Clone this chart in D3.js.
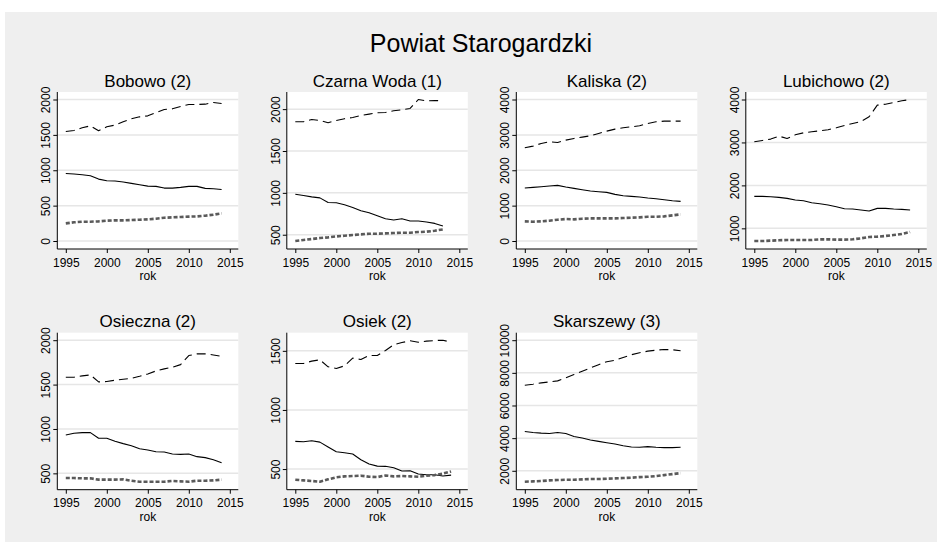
<!DOCTYPE html>
<html><head><meta charset="utf-8">
<script src="https://cdn.jsdelivr.net/npm/d3@7"></script>
<style>
body{margin:0;background:#fff}
svg{display:block}
text{font-family:"Liberation Sans",Arial,Helvetica,sans-serif;fill:#000}
</style>
</head><body>
<svg id="chart" width="937" height="542"></svg>
<script>
// ---------- data ----------
const chartTitle = "Powiat Starogardzki";
const xLabel = "rok";
const xTicks = [1995, 2000, 2005, 2010, 2015];
const years = [1995,1996,1997,1998,1999,2000,2001,2002,2003,2004,2005,2006,2007,2008,2009,2010,2011,2012,2013,2014];
const gminy = ["Bobowo (2)","Czarna Woda (1)","Kaliska (2)","Lubichowo (2)","Osieczna (2)","Osiek (2)","Skarszewy (3)"];

// y tick labels per panel
const yTicksBobowo = [0,500,1000,1500,2000];
const yTicksCzarnaWoda = [500,1000,1500,2000];
const yTicksKaliska = [0,1000,2000,3000,4000];
const yTicksLubichowo = [1000,2000,3000,4000];
const yTicksOsieczna = [500,1000,1500,2000];
const yTicksOsiek = [500,1000,1500];
const yTicksSkarszewy = [2000,4000,6000,8000,10000];

// wiek produkcyjny (dashed), przedprodukcyjny (solid), poprodukcyjny (grey)
const bobowoProd  = [1548,1562,1600,1628,1558,1614,1638,1685,1727,1755,1769,1816,1859,1868,1901,1929,1929,1934,1958,1944];
const bobowoPrzed = [955,946,936,922,875,852,847,833,814,795,776,772,748,748,758,772,772,744,739,729];
const bobowoPo    = [249,264,273,273,278,287,292,292,296,301,306,315,329,334,339,344,348,358,372,391];

const czarnaWodaProd  = [1849,1849,1877,1865,1837,1865,1885,1901,1925,1940,1956,1960,1980,1992,2008,2115,2099,2103,2099];
const czarnaWodaPrzed = [984,968,952,940,885,881,857,825,786,762,726,690,675,690,663,663,651,635,603];
const czarnaWodaPo    = [425,437,448,460,468,480,488,496,504,512,512,516,520,524,524,532,536,548,563];

const kaliskaProd  = [2635,2682,2758,2805,2786,2852,2899,2936,2974,3040,3106,3162,3200,3228,3256,3322,3369,3388,3388,3388];
const kaliskaPrzed = [1497,1515,1534,1553,1572,1525,1487,1449,1412,1393,1374,1318,1280,1261,1242,1214,1195,1167,1139,1120];
const kaliskaPo    = [555,546,555,574,602,621,612,631,640,640,640,640,649,659,668,687,687,696,725,753];

const lubichowoProd  = [3016,3047,3078,3147,3093,3178,3225,3248,3271,3295,3341,3395,3442,3488,3597,3868,3891,3930,3969,4000];
const lubichowoPrzed = [1744,1744,1736,1721,1698,1659,1643,1597,1574,1543,1504,1457,1450,1426,1403,1465,1465,1450,1442,1426];
const lubichowoPo    = [705,705,713,721,729,729,729,729,744,744,736,736,744,767,798,806,822,845,868,915];

const osiecznaProd  = [1583,1583,1598,1609,1530,1534,1549,1560,1571,1594,1620,1654,1677,1695,1725,1827,1846,1846,1834,1819];
const osiecznaPrzed = [932,951,959,959,895,895,861,835,812,778,763,744,741,718,714,718,688,677,654,620];
const osiecznaPo    = [447,447,444,444,429,429,429,432,417,406,406,406,406,414,410,406,417,417,421,429];

const osiekProd  = [1393,1393,1413,1424,1365,1351,1373,1438,1427,1461,1461,1503,1551,1570,1585,1573,1582,1587,1590,1573];
const osiekPrzed = [734,731,739,728,686,646,638,627,579,542,525,523,511,483,486,458,452,452,441,449];
const osiekPo    = [410,404,399,393,413,430,438,441,444,435,432,446,438,441,438,435,444,449,461,480];

const skarszewyProd  = [7245,7306,7387,7447,7508,7690,7893,8095,8298,8500,8683,8764,8946,9108,9229,9331,9391,9432,9412,9351];
const skarszewyPrzed = [4410,4349,4309,4288,4349,4288,4106,4005,3883,3802,3721,3640,3539,3458,3438,3478,3438,3418,3418,3438];
const skarszewyPo    = [1332,1352,1372,1413,1433,1453,1453,1473,1494,1494,1514,1534,1555,1575,1615,1635,1676,1737,1797,1858];

// ---------- assemble panels ----------
const panels = [
  {name: gminy[0], ticks: yTicksBobowo, prod: bobowoProd, przed: bobowoPrzed, po: bobowoPo},
  {name: gminy[1], ticks: yTicksCzarnaWoda, prod: czarnaWodaProd, przed: czarnaWodaPrzed, po: czarnaWodaPo},
  {name: gminy[2], ticks: yTicksKaliska, prod: kaliskaProd, przed: kaliskaPrzed, po: kaliskaPo},
  {name: gminy[3], ticks: yTicksLubichowo, prod: lubichowoProd, przed: lubichowoPrzed, po: lubichowoPo},
  {name: gminy[4], ticks: yTicksOsieczna, prod: osiecznaProd, przed: osiecznaPrzed, po: osiecznaPo},
  {name: gminy[5], ticks: yTicksOsiek, prod: osiekProd, przed: osiekPrzed, po: osiekPo},
  {name: gminy[6], ticks: yTicksSkarszewy, prod: skarszewyProd, przed: skarszewyPrzed, po: skarszewyPo}
];

const seriesStyles = [
  {key: "prod",  color: "#000", width: 1.1, dash: "9,5"},
  {key: "przed", color: "#000", width: 1.1, dash: null},
  {key: "po",    color: "#5a5a5a", width: 2.6, dash: "4,2"}
];

// ---------- layout ----------
const svg = d3.select("#chart");
svg.append("rect").attr("x", 5).attr("y", 12).attr("width", 932).attr("height", 530).attr("fill", "#efefef");

svg.append("text").attr("x", 481).attr("y", 52).attr("text-anchor", "middle")
  .style("font-size", "25px").text(chartTitle);

const left0 = 57.3, colStep = 229.5, top0 = 92, rowStep = 240.7;
const pw = 181, ph = 157;
const padX = 8.5, padTop = 7.5, padBottom = 8;
const tickFont = "12px";

panels.forEach((p, i) => {
  const col = i % 4, row = Math.floor(i / 4);
  const px = left0 + col * colStep, py = top0 + row * rowStep;
  const g = svg.append("g").attr("transform", `translate(${px},${py})`);

  const n = p.prod.length;
  const yrs = years.slice(0, n);
  const allVals = p.prod.concat(p.przed, p.po, p.ticks);
  const x = d3.scaleLinear().domain([1995, 2015]).range([padX, pw - padX]);
  const y = d3.scaleLinear().domain(d3.extent(allVals)).range([ph - padBottom, padTop]);

  g.append("rect").attr("width", pw).attr("height", ph).attr("fill", "#fff");

  // gridlines
  g.selectAll(".grid").data(p.ticks).enter().append("line")
    .attr("x1", 0).attr("x2", pw)
    .attr("y1", d => y(d)).attr("y2", d => y(d))
    .attr("stroke", "#e6e6e6").attr("stroke-width", 1.5);

  // lines
  seriesStyles.forEach(s => {
    const vals = p[s.key];
    const line = d3.line().x((d, j) => x(yrs[j])).y(d => y(d));
    const path = g.append("path").datum(vals).attr("d", line)
      .attr("fill", "none").attr("stroke", s.color).attr("stroke-width", s.width)
      .attr("stroke-linejoin", "round");
    if (s.dash) path.attr("stroke-dasharray", s.dash);
  });

  // y axis
  const ya = g.append("g").call(d3.axisLeft(y).tickValues(p.ticks).tickFormat(d3.format("d")).tickSize(4).tickSizeOuter(0));
  ya.select(".domain").remove();
  ya.selectAll(".tick line").attr("stroke", "#000");
  ya.selectAll(".tick text")
    .attr("transform", "rotate(-90)").attr("x", 0).attr("y", -7).attr("dy", 0)
    .attr("text-anchor", "middle").style("font-size", tickFont)
    .style("font-family", '"Liberation Sans",Arial,sans-serif').attr("fill", "#000");
  g.append("line").attr("x1", 0).attr("x2", 0).attr("y1", 0).attr("y2", ph).attr("stroke", "#000").attr("stroke-width", 1);

  // x axis
  const xa = g.append("g").attr("transform", `translate(0,${ph})`)
    .call(d3.axisBottom(x).tickValues(xTicks).tickFormat(d3.format("d")).tickSize(4).tickSizeOuter(0));
  xa.select(".domain").remove();
  xa.selectAll(".tick line").attr("stroke", "#000");
  xa.selectAll(".tick text").attr("y", 9).attr("dy", "0.71em").style("font-size", tickFont)
    .style("font-family", '"Liberation Sans",Arial,sans-serif').attr("fill", "#000");
  g.append("line").attr("x1", 0).attr("x2", pw).attr("y1", ph).attr("y2", ph).attr("stroke", "#000").attr("stroke-width", 1);

  g.append("text").attr("x", pw / 2).attr("y", ph + 31).attr("text-anchor", "middle")
    .style("font-size", tickFont).text(xLabel);

  g.append("text").attr("x", pw / 2).attr("y", -5.3).attr("text-anchor", "middle")
    .style("font-size", "17px").text(p.name);
});
</script>
</body></html>
